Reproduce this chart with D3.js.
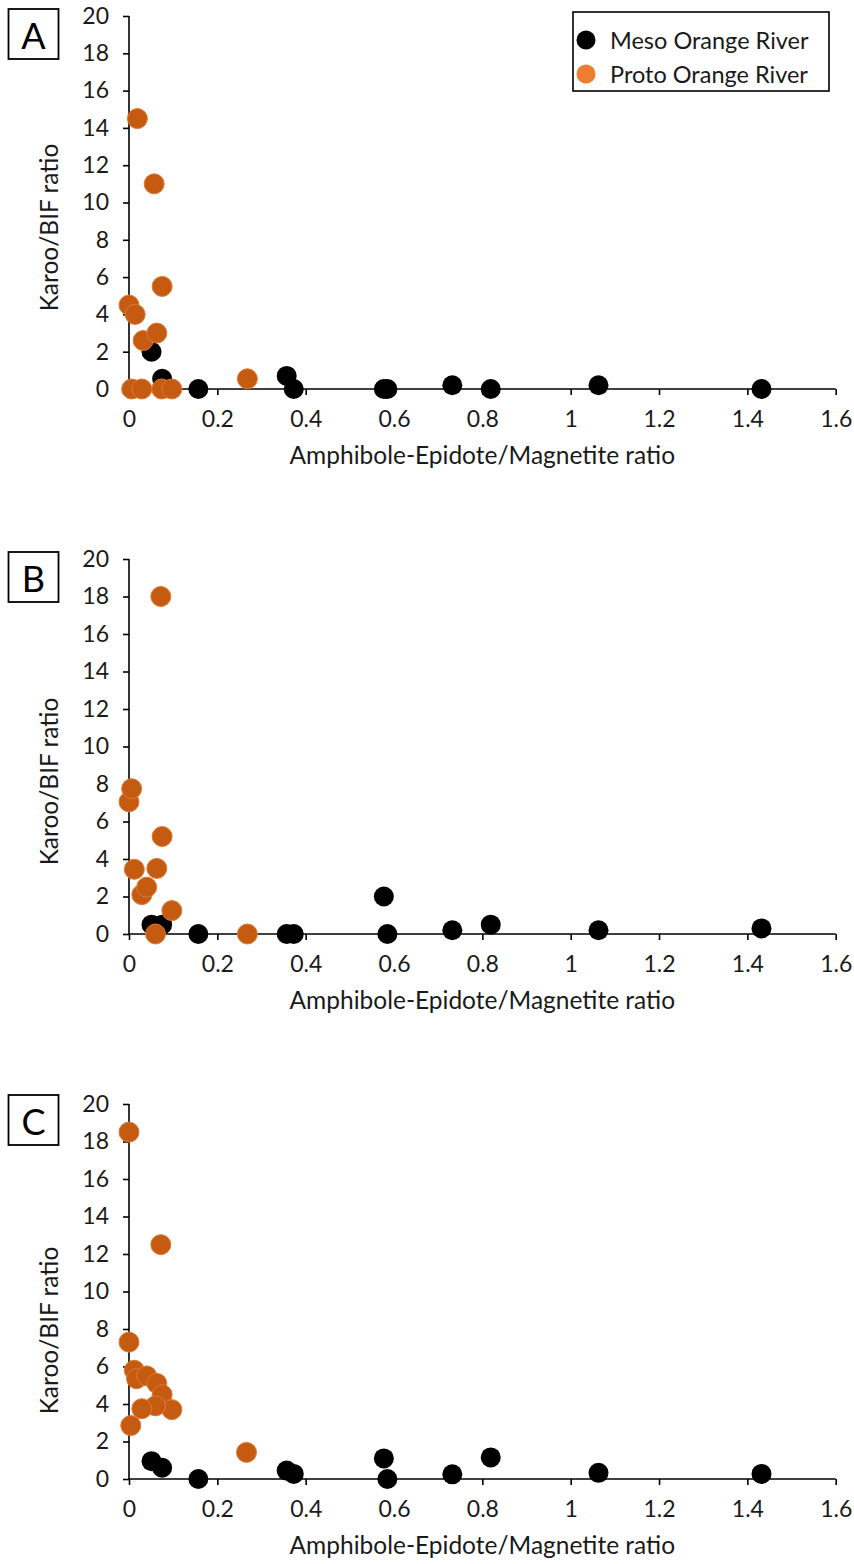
<!DOCTYPE html>
<html>
<head>
<meta charset="utf-8">
<script src="https://cdn.jsdelivr.net/npm/d3@7"></script>
<style>
  html, body { margin: 0; padding: 0; background: #fff; }
  svg { display: block; font-family: Lato, "Noto Sans", sans-serif; }
</style>
</head>
<body>
<svg id="chart" width="854" height="1564"></svg>
<script>
// ---------------- DATA ----------------
const panelLabels = ["A", "B", "C"];
const xTicks = [0, 0.2, 0.4, 0.6, 0.8, 1, 1.2, 1.4, 1.6];
const yTicks = [0, 2, 4, 6, 8, 10, 12, 14, 16, 18, 20];
const xTitle = "Amphibole-Epidote/Magnetite ratio";
const yTitle = "Karoo/BIF ratio";
const seriesNames = ["Meso Orange River", "Proto Orange River"];

// Meso Orange River (same samples in every panel)
const mesoX = [0.051, 0.075, 0.157, 0.357, 0.373, 0.577, 0.585, 0.732, 0.819, 1.063, 1.432];
const mesoYA = [2.0, 0.55, 0, 0.7, 0, 0, 0, 0.2, 0, 0.2, 0];
const mesoYB = [0.5, 0.5, 0, 0, 0, 2.0, 0, 0.2, 0.5, 0.2, 0.3];
const mesoYC = [0.95, 0.6, 0, 0.45, 0.27, 1.1, 0, 0.25, 1.15, 0.33, 0.27];

// Proto Orange River
const protoXA = [0.0, 0.014, 0.019, 0.032, 0.057, 0.063, 0.075, 0.268, 0.006, 0.029, 0.074, 0.097];
const protoYA = [4.5, 4.0, 14.5, 2.6, 11.0, 3.0, 5.5, 0.55, 0, 0, 0, 0];
const protoXB = [0.0, 0.006, 0.012, 0.029, 0.04, 0.06, 0.063, 0.072, 0.075, 0.097, 0.268];
const protoYB = [7.05, 7.75, 3.45, 2.1, 2.5, 0, 3.5, 18.0, 5.2, 1.25, 0];
const protoXC = [0.0, 0.072, 0.0, 0.012, 0.017, 0.04, 0.063, 0.075, 0.097, 0.06, 0.029, 0.004, 0.266];
const protoYC = [18.5, 12.5, 7.3, 5.8, 5.35, 5.5, 5.1, 4.5, 3.7, 3.9, 3.75, 2.85, 1.42];

const mesoY = [mesoYA, mesoYB, mesoYC];
const protoX = [protoXA, protoXB, protoXC];
const protoY = [protoYA, protoYB, protoYC];

// ---------------- LAYOUT ----------------
const plotLeft = 129, plotRight = 835.7;
const panelTops = [16, 559, 1104];
const panelBottoms = [389, 934, 1479];
const yTitleOffsets = [25, 35, 39];
const labelBoxTops = [9, 552, 1095];

const colMeso = "#000000";
const colProto = "#C55A11";
const colProtoStroke = "#DE7A35";
const colLegendProto = "#ED7D31";
const R = 10;

const svg = d3.select("#chart");
const fmt = d => String(+d.toFixed(1));

panelLabels.forEach((lab, i) => {
  const top = panelTops[i], bottom = panelBottoms[i];
  const x = d3.scaleLinear().domain([0, 1.6]).range([plotLeft, plotRight]);
  const y = d3.scaleLinear().domain([0, 20]).range([bottom, top]);
  const g = svg.append("g");

  const xAxis = d3.axisBottom(x).tickValues(xTicks).tickFormat(fmt).tickSize(6).tickPadding(16);
  const yAxis = d3.axisLeft(y).tickValues(yTicks).tickFormat(fmt).tickSize(6).tickPadding(14);

  const gx = g.append("g").attr("transform", `translate(0,${bottom})`).call(xAxis);
  const gy = g.append("g").attr("transform", `translate(${plotLeft},0)`).call(yAxis);
  [gx, gy].forEach(a => {
    a.selectAll(".domain").attr("stroke", "#000").attr("stroke-width", 1.6);
    a.selectAll(".tick line").attr("stroke", "#000").attr("stroke-width", 1.6);
    a.selectAll(".tick text").attr("fill", "#1a1a1a").style("font-size", "23px").style("font-family", "Lato, sans-serif");
  });
  gx.select(".domain").attr("d", `M${plotLeft},0H${plotRight}`);
  gy.select(".domain").attr("d", `M0,${bottom}V${top}`);

  g.append("text")
    .attr("x", (plotLeft + plotRight) / 2)
    .attr("y", bottom + 65)
    .attr("text-anchor", "middle")
    .attr("dominant-baseline", "central")
    .style("font-size", "24.5px")
    .attr("fill", "#1a1a1a")
    .text(xTitle);

  const yc = (top + bottom) / 2 + yTitleOffsets[i];
  g.append("text")
    .attr("transform", `translate(48,${yc}) rotate(-90)`)
    .attr("text-anchor", "middle")
    .attr("dominant-baseline", "central")
    .style("font-size", "24.5px")
    .attr("fill", "#1a1a1a")
    .text(yTitle);

  g.append("rect")
    .attr("x", 8.5).attr("y", labelBoxTops[i])
    .attr("width", 50).attr("height", 50)
    .attr("fill", "none").attr("stroke", "#000").attr("stroke-width", 1.8);
  g.append("text")
    .attr("x", 33.5).attr("y", labelBoxTops[i] + 26)
    .attr("text-anchor", "middle")
    .attr("dominant-baseline", "central")
    .style("font-size", "36px")
    .attr("fill", "#000")
    .text(lab);

  g.append("g").selectAll("circle")
    .data(mesoX.map((v, k) => [v, mesoY[i][k]]))
    .join("circle")
    .attr("cx", d => x(d[0])).attr("cy", d => y(d[1]))
    .attr("r", R).attr("fill", colMeso);

  g.append("g").selectAll("circle")
    .data(protoX[i].map((v, k) => [v, protoY[i][k]]))
    .join("circle")
    .attr("cx", d => x(d[0])).attr("cy", d => y(d[1]))
    .attr("r", R).attr("fill", colProto)
    .attr("stroke", colProtoStroke).attr("stroke-width", 1);

  if (i === 0) {
    const lg = svg.append("g");
    lg.append("rect")
      .attr("x", 573).attr("y", 12)
      .attr("width", 256).attr("height", 79)
      .attr("fill", "#fff").attr("stroke", "#000").attr("stroke-width", 1.6);
    const rows = [40, 74];
    const cols = [colMeso, colLegendProto];
    seriesNames.forEach((nm, k) => {
      lg.append("circle").attr("cx", 586).attr("cy", rows[k]).attr("r", 9.5).attr("fill", cols[k]);
      lg.append("text")
        .attr("x", 610).attr("y", rows[k])
        .attr("dominant-baseline", "central")
        .style("font-size", "23.5px")
        .attr("fill", "#1a1a1a")
        .text(nm);
    });
  }
});
</script>
</body>
</html>
